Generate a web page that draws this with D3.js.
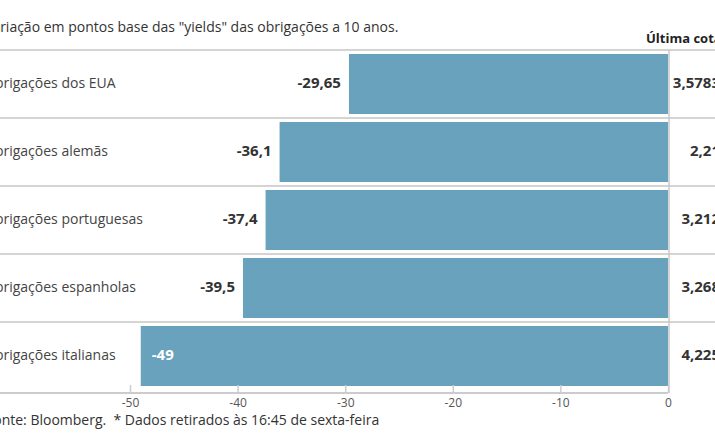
<!DOCTYPE html>
<html><head><meta charset="utf-8">
<script src="https://cdn.jsdelivr.net/npm/d3@7"></script>
<style>body{margin:0;background:#fff;overflow:hidden}svg{display:block}text{font-family:"Open Sans",sans-serif}</style>
</head><body>
<svg id="c" width="715" height="445"></svg>
<script>
const categories = ["Obrigações dos EUA","Obrigações alemãs","Obrigações portuguesas","Obrigações espanholas","Obrigações italianas"];
const changes = [-29.65,-36.1,-37.4,-39.5,-49];
const changeLabels = ["-29,65","-36,1","-37,4","-39,5","-49"];
const lastQuotes = ["3,5783","2,21","3,212","3,268","4,225"];
const ticks = [-50,-40,-30,-20,-10,0];
const title = 'Variação em pontos base das "yields" das obrigações a 10 anos.';
const header = "Última cotação*";
const footer = "Fonte: Bloomberg.\u00a0 * Dados retirados às 16:45 de sexta-feira";

const svg = d3.select("#c");
const x = d3.scaleLinear().domain([-50,0]).range([130,668]);
const y = d3.scaleBand().domain(categories).range([50,390]).paddingInner(0).paddingOuter(0);
const barPad = 4;

svg.append("text").attr("x",-16).attr("y",32).attr("font-size",14).attr("fill","#333").text(title);
svg.append("text").attr("x",646).attr("y",43).attr("font-size",13).attr("font-weight","bold").attr("fill","#222").text(header);

// separators
const seps = [50].concat(categories.slice(1).map(c=>y(c)));
svg.selectAll("line.sep").data(seps).join("line").attr("class","sep")
  .attr("x1",0).attr("x2",715).attr("y1",d=>d).attr("y2",d=>d)
  .attr("stroke","#d4d4d4").attr("stroke-width",2);

// bars
svg.selectAll("rect.bar").data(changes).join("rect").attr("class","bar")
  .attr("x",d=>x(d)).attr("width",d=>x(0)-x(d))
  .attr("y",(d,i)=>y(categories[i])+barPad).attr("height",y.bandwidth()-barPad*2)
  .attr("fill","#69a2bd");

// zero line
svg.append("line").attr("x1",x(0)+1).attr("x2",x(0)+1).attr("y1",50).attr("y2",393)
  .attr("stroke","#c8c8c8").attr("stroke-width",1.5);

// axis
const axis = d3.axisBottom(x).tickValues(ticks).tickSize(-8).tickFormat(d=>String(d)).tickPadding(5);
const ag = svg.append("g").attr("transform","translate(0,393)").call(axis);
ag.select(".domain").attr("d","M0,0H668").attr("stroke","#ccc").attr("stroke-width",2);
ag.selectAll(".tick line").attr("stroke","#ccc").attr("stroke-width",1.5);
ag.selectAll(".tick text").attr("font-size",12).attr("fill","#555").attr("font-family","'Open Sans',sans-serif");

// row labels
svg.selectAll("text.cat").data(categories).join("text").attr("class","cat")
  .attr("x",-16).attr("y",d=>y(d)+y.bandwidth()/2-1).attr("dy","0.35em")
  .attr("font-size",14).attr("fill","#444").text(d=>d);

// value labels
svg.selectAll("text.val").data(changes).join("text").attr("class","val")
  .attr("x",d=> d<=-45 ? x(d)+11 : x(d)-8)
  .attr("text-anchor",d=> d<=-45 ? "start":"end")
  .attr("y",(d,i)=>y(categories[i])+y.bandwidth()/2-1).attr("dy","0.35em")
  .attr("font-size",15).attr("font-weight","bold")
  .attr("fill",d=> d<=-45 ? "#fff":"#333").text((d,i)=>changeLabels[i]);

// last quotes
svg.selectAll("text.q").data(lastQuotes).join("text").attr("class","q")
  .attr("x",720).attr("text-anchor","end")
  .attr("y",(d,i)=>y(categories[i])+y.bandwidth()/2-1).attr("dy","0.35em")
  .attr("font-size",15).attr("font-weight","bold").attr("fill","#333").text(d=>d);

svg.append("text").attr("x",-14).attr("y",425).attr("font-size",14).attr("fill","#333").text(footer);
</script>
</body></html>
